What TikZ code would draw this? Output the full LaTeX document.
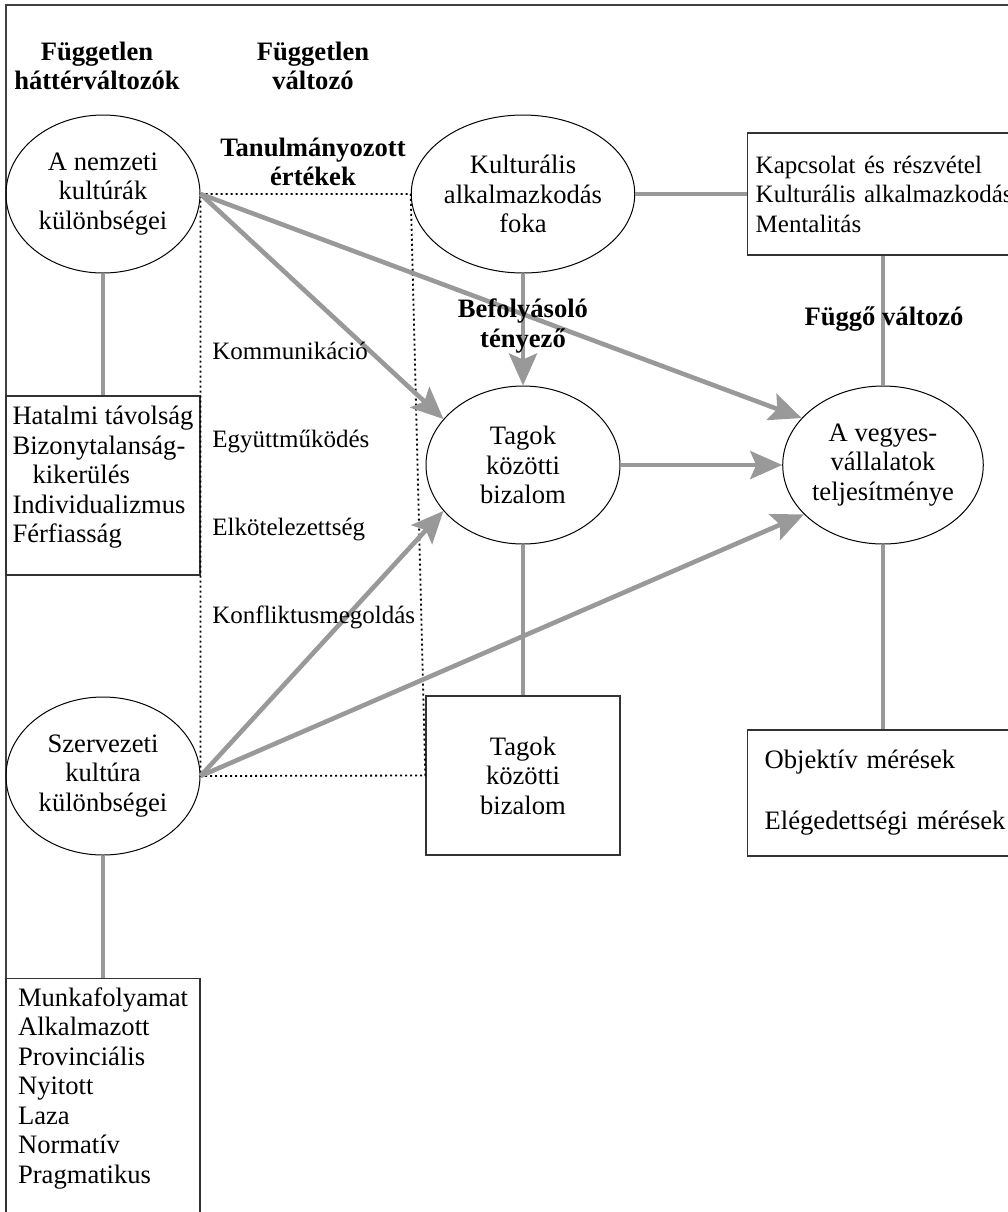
\documentclass[tikz,border=0pt]{standalone}
\usepackage{fontspec}
\setmainfont{Liberation Serif}
\usepackage{tikz}
\usetikzlibrary{positioning,shapes.geometric,arrows.meta}
\definecolor{linkgray}{HTML}{999999}
\newcommand{\bigtext}{\fontsize{13.3pt}{14.75pt}\selectfont}
\newcommand{\smalltext}{\fontsize{12.5pt}{14.75pt}\selectfont}
\tikzstyle{oval} = [ellipse, minimum width=97pt, minimum height=79pt, inner sep=0pt, align=center, draw=black, line width=0.5pt]
\tikzstyle{squared} = [rectangle, minimum width=97pt, align=center, draw=black!80, line width=0.7pt]
\tikzstyle{listbox} = [rectangle, align=left, draw=black!80, line width=0.7pt]
\tikzstyle{title} = [font=\bigtext\bfseries, align=center]
\tikzstyle{value} = [anchor=base west, inner sep=0pt, font=\smalltext]
\tikzstyle{link} = [draw=linkgray, line width=2.3pt]
\tikzstyle{connect} = [link, -{Stealth[length=16pt,width=14pt,inset=3pt]}]
\tikzstyle{studied} = [draw=black, line width=0.9pt, dash pattern=on 1pt off 1.5pt]
\tikzstyle{frame} = [draw=black!75, line width=0.8pt]

\begin{document}
\begin{tikzpicture}[x=0.5pt, y=-0.5pt, font=\bigtext]
			\useasboundingbox (0,0) rectangle (1008,1212);
			\clip (0,0) rectangle (1008,1212);
			\draw [frame] (6,1240) -- (6,5) -- (1040,5);

			\node (nemzeti) [oval] at (103,194) {A nemzeti\\kultúrák\\különbségei};
			\node (kultura) [oval, node distance=210pt, right of=nemzeti] {Kulturális\\alkalmazkodás\\foka};
			\node (tagok) [oval, node distance=135.5pt, below of=kultura] {Tagok\\közötti\\bizalom};
			\node (vegyes) [oval, node distance=180pt, right of=tagok] {A vegyes-\\vállalatok\\teljesítménye};
			\node (szervezeti) [oval, node distance=291pt, below of=nemzeti] {Szervezeti\\kultúra\\különbségei};
			\node (bizbox) [squared, minimum height=79.5pt, node distance=155.25pt, below of=tagok] {Tagok\\közötti\\bizalom};
			\node (hatalmi) [listbox, minimum width=97pt, minimum height=89.5pt, node distance=145.75pt, below of=nemzeti] {Hatalmi távolság\\Bizonytalanság-\\\hspace*{10pt}kikerülés\\Individualizmus\\Férfiasság\\[-3.5pt]\mbox{}};
			\node (munka) [listbox, minimum width=97pt, inner ysep=4.4pt, node distance=101pt, below of=szervezeti, anchor=north] {Munkafolyamat\\Alkalmazott\\Provinciális\\Nyitott\\Laza\\Normatív\\Pragmatikus\\[20pt]\mbox{}};
			\node (kapcsolat) [listbox, font=\smalltext, text width=170pt, inner xsep=4pt, minimum height=61pt, node distance=112pt, right of=kultura, anchor=west] {Kapcsolat és részvétel\\Kulturális alkalmazkodás\\Mentalitás};
			\node (objektiv) [listbox, text width=170pt, inner xsep=8.5pt, minimum height=63pt, anchor=west] at (747,793) {Objektív mérések\\[15.75pt]Elégedettségi mérések};

			\draw [studied] (nemzeti.east) -- (kultura.west) -- (bizbox.west) -- (szervezeti.east) -- cycle;

			\draw [link] (nemzeti) -- (hatalmi);
			\draw [link] (szervezeti) -- (munka);
			\draw [link] (kultura) -- (kapcsolat);
			\draw [link] (kapcsolat.south -| vegyes) -- (vegyes);
			\draw [link] (vegyes) -- (vegyes |- objektiv.north);
			\draw [link] (tagok) -- (bizbox);

			\draw [connect] (kultura) -- (tagok);
			\draw [connect] (tagok) -- (vegyes);
			\draw [connect] (nemzeti.east) -- (tagok.150);
			\draw [connect] (nemzeti.east) -- (vegyes.150);
			\draw [connect] (szervezeti.east) -- (tagok.210);
			\draw [connect] (szervezeti.east) -- (vegyes.212);

			\node (hatter) [title] at (97,66) {Független\\háttérváltozók};
			\node (fuggetlen) [title, node distance=108pt, right of=hatter] {Független\\változó};
			\node (ertekek) [title, node distance=48pt, below of=fuggetlen] {Tanulmányozott\\értékek};
			\node (befolyas) [title] at (523,326) {Befolyásoló\\tényező};
			\node (fuggo) [title] at (884,319) {Függő változó};

			\node (komm) [value] at (212,359) {Kommunikáció};
			\node (egyutt) [value] at (212,447) {Együttműködés};
			\node (elkot) [value] at (212,535) {Elkötelezettség};
			\node (konfl) [value] at (212,623) {Konfliktusmegoldás};
\end{tikzpicture}
\end{document}
